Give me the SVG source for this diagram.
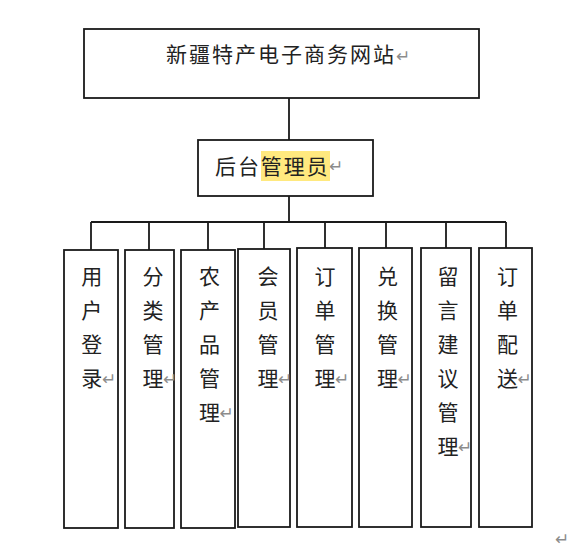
<svg xmlns="http://www.w3.org/2000/svg" width="574" height="556" viewBox="0 0 574 556">
<style>
.box{fill:#fff;stroke:#1a1a1a;stroke-width:1.8}
.ln{fill:none;stroke:#1a1a1a;stroke-width:1.8}
.t{font-family:"Noto Sans CJK SC","Noto Sans",sans-serif;font-size:21px;fill:#222}
.v{font-family:"Noto Sans CJK SC","Noto Sans",sans-serif;font-size:21px;fill:#222;text-anchor:middle}
.r{font-family:"DejaVu Sans",sans-serif;font-size:17px;fill:#8c8c8c}
</style>
<rect width="574" height="556" fill="#fff"/>
<g id="connectors">
<path class="ln" d="M289 98V140M289 196V222M91 222H506M91 222V250M149 222V250M208 222V250M264 222V249M325 222V248M386 222V248M446 222V248M506 222V248"/>
</g>
<g id="n-top">
<rect class="box" x="84" y="29" width="395" height="69"/>
<text class="t" x="166" y="62" font-size="22" letter-spacing="2">新疆特产电子商务网站</text>
<text class="r" x="396" y="62">↵</text>
</g>
<g id="n-admin">
<rect class="box" x="198" y="140" width="175" height="56"/>
<rect x="261" y="151" width="69" height="30" fill="#ffe97f"/>
<text class="t" x="215" y="174" font-size="22" letter-spacing="1.9">后台管理员</text>
<text class="r" x="329" y="172">↵</text>
</g>
<g id="n1">
<rect class="box" x="64" y="250" width="54" height="278"/>
<text class="v"><tspan x="91.7" y="284">用</tspan><tspan x="91.7" y="318">户</tspan><tspan x="91.7" y="352">登</tspan><tspan x="91.7" y="386">录</tspan></text>
<text class="r" x="102" y="385">↵</text>
</g>
<g id="n2">
<rect class="box" x="125" y="250" width="49" height="278"/>
<text class="v"><tspan x="153" y="284">分</tspan><tspan x="153" y="318">类</tspan><tspan x="153" y="352">管</tspan><tspan x="153" y="386">理</tspan></text>
<text class="r" x="163" y="385">↵</text>
</g>
<g id="n3">
<rect class="box" x="181" y="250" width="54" height="278"/>
<text class="v"><tspan x="209.5" y="284">农</tspan><tspan x="209.5" y="318">产</tspan><tspan x="209.5" y="352">品</tspan><tspan x="209.5" y="386">管</tspan><tspan x="209.5" y="420">理</tspan></text>
<text class="r" x="219.5" y="419">↵</text>
</g>
<g id="n4">
<rect class="box" x="238" y="249" width="52" height="278"/>
<text class="v"><tspan x="268" y="284">会</tspan><tspan x="268" y="318">员</tspan><tspan x="268" y="352">管</tspan><tspan x="268" y="386">理</tspan></text>
<text class="r" x="278" y="385">↵</text>
</g>
<g id="n5">
<rect class="box" x="297" y="248" width="55" height="279"/>
<text class="v"><tspan x="325" y="284">订</tspan><tspan x="325" y="318">单</tspan><tspan x="325" y="352">管</tspan><tspan x="325" y="386">理</tspan></text>
<text class="r" x="335" y="385">↵</text>
</g>
<g id="n6">
<rect class="box" x="359" y="248" width="53" height="279"/>
<text class="v"><tspan x="387.5" y="284">兑</tspan><tspan x="387.5" y="318">换</tspan><tspan x="387.5" y="352">管</tspan><tspan x="387.5" y="386">理</tspan></text>
<text class="r" x="397.5" y="385">↵</text>
</g>
<g id="n7">
<rect class="box" x="421" y="248" width="50" height="279"/>
<text class="v"><tspan x="448" y="284">留</tspan><tspan x="448" y="318">言</tspan><tspan x="448" y="352">建</tspan><tspan x="448" y="386">议</tspan><tspan x="448" y="420">管</tspan><tspan x="448" y="454">理</tspan></text>
<text class="r" x="458" y="453">↵</text>
</g>
<g id="n8">
<rect class="box" x="479" y="248" width="53" height="279"/>
<text class="v"><tspan x="507.5" y="284">订</tspan><tspan x="507.5" y="318">单</tspan><tspan x="507.5" y="352">配</tspan><tspan x="507.5" y="386">送</tspan></text>
<text class="r" x="517.5" y="385">↵</text>
</g>
<text class="r" x="555" y="545" fill="#999">↵</text>
</svg>
